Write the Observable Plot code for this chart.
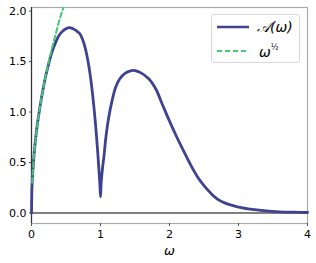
<!DOCTYPE html>
<html>
<head>
<meta charset="utf-8">
<script src="https://cdn.jsdelivr.net/npm/d3@7"></script>
<script src="https://cdn.jsdelivr.net/npm/@observablehq/plot@0.6"></script>
<style>
  html, body { margin: 0; padding: 0; background: #fff; }
  #wrap { position: relative; width: 316px; height: 263px; font-family: "DejaVu Sans", sans-serif; }
  #legend { position: absolute; left: 211px; top: 14px; width: 89px; height: 49px; box-sizing: border-box;
            border: 1px solid #d8d8d8; border-radius: 3px; background: rgba(255,255,255,0.8); }
  .row { position: absolute; left: 0; height: 20px; display: flex; align-items: center; }
  .lab { font-family: "DejaVu Sans", sans-serif; font-style: italic; font-size: 14px; color: #000; margin-left: 8px; white-space: nowrap; }
  sup { font-size: 8px; font-style: normal; vertical-align: 7px; }
</style>
</head>
<body>
<div id="wrap">
  <div id="chart"></div>
  <div id="legend">
    <div class="row" style="top:2px; left:5px;">
      <svg width="32" height="10"><line x1="0" x2="32" y1="5" y2="5" stroke="#3e4290" stroke-width="2.5"/></svg>
      <span class="lab" id="labA"></span>
    </div>
    <div class="row" style="top:26px; left:5px;">
      <svg width="32" height="10"><line x1="0" x2="32" y1="5" y2="5" stroke="#45c874" stroke-width="2" stroke-dasharray="5,3"/></svg>
      <span class="lab" id="labB" style="margin-left:10px"></span>
    </div>
  </div>
</div>
<script>
// Spectral curve A(ω)
const omegaA = [0,0.005,0.01,0.02,0.04,0.07,0.1,0.15,0.2,0.25,0.3,0.35,0.4,0.45,0.5,0.55,0.6,0.65,0.7,0.75,0.8,0.85,0.9,0.93,0.96,0.98,0.99,1.0,1.01,1.03,1.05,1.08,1.12,1.17,1.22,1.28,1.36,1.45,1.5,1.58,1.7,1.8,1.9,2.0,2.1,2.2,2.3,2.4,2.5,2.6,2.7,2.8,2.9,3.0,3.2,3.4,3.6,3.8,4.0];
const valuesA = [0,0.21,0.30,0.42,0.60,0.80,0.95,1.16,1.34,1.48,1.60,1.69,1.76,1.80,1.825,1.835,1.825,1.805,1.775,1.70,1.57,1.37,1.08,0.86,0.60,0.40,0.29,0.16,0.30,0.45,0.56,0.76,0.95,1.12,1.245,1.33,1.385,1.41,1.41,1.39,1.33,1.23,1.07,0.91,0.76,0.62,0.485,0.365,0.27,0.195,0.135,0.10,0.077,0.058,0.035,0.02,0.012,0.008,0.005];
// Asymptote ω^(1/2)
const omegaB = [0.01,0.02,0.04,0.07,0.1,0.15,0.2,0.25,0.3,0.35,0.4,0.45,0.5];
const valuesB = [0.30,0.42,0.60,0.79,0.95,1.16,1.34,1.50,1.64,1.77,1.90,2.01,2.12];
const xTicks = [0,1,2,3,4];
const yTicks = [0,0.5,1.0,1.5,2.0];
const legendLabels = ["𝒜(ω)", "ω"];

const dataA = omegaA.map((w,i)=>({w, v: valuesA[i]}));
const dataB = omegaB.map((w,i)=>({w, v: valuesB[i]}));

document.getElementById("labA").textContent = legendLabels[0];
document.getElementById("labB").innerHTML = legendLabels[1] + "<sup>½</sup>";

const chart = Plot.plot({
  width: 316, height: 263,
  marginLeft: 31, marginRight: 9, marginTop: 7, marginBottom: 40,
  style: {fontFamily: "DejaVu Sans, sans-serif", fontSize: "11px", color: "#000", background: "#fff"},
  x: {domain: [0, 4]},
  y: {domain: [-0.104, 2.035]},
  marks: [
    Plot.frame({stroke: "#aaaaaa", strokeWidth: 1.2}),
    Plot.ruleX([0], {stroke: "#333", strokeWidth: 1.2}),
    Plot.ruleY([0], {stroke: "#000", strokeWidth: 1}),
    Plot.axisX({ticks: xTicks, tickFormat: d3.format("d"), tickSize: 3, tickPadding: 4, stroke: "#555", fontSize: 11, label: null}),
    Plot.axisY({ticks: yTicks, tickFormat: d3.format(".1f"), tickSize: 2, tickPadding: 3, stroke: "#555", fontSize: 11, label: null}),
    Plot.text(["ω"], {frameAnchor: "bottom", dy: 31, fontSize: 13, fontStyle: "italic"}),
    Plot.line(dataA, {x: "w", y: "v", stroke: "#3e4290", strokeWidth: 2.8, curve: "catmull-rom"}),
    Plot.line(dataB, {x: "w", y: "v", stroke: "#45c874", strokeWidth: 2, strokeDasharray: "5,3", curve: "catmull-rom", clip: true})
  ]
});
document.getElementById("chart").appendChild(chart);
</script>
</body>
</html>
